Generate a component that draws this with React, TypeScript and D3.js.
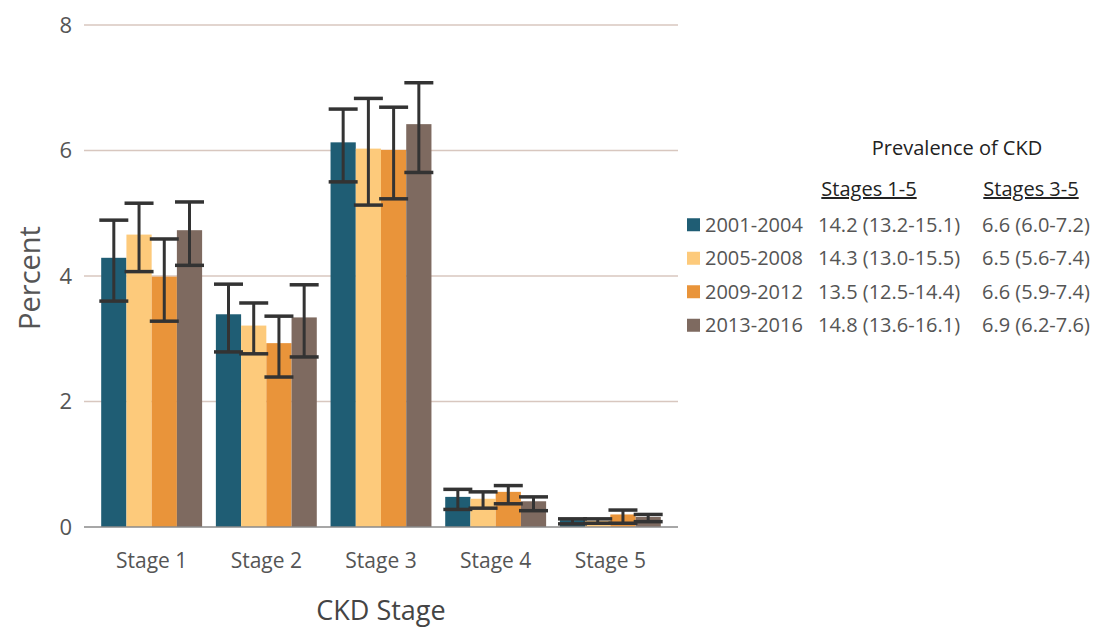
import React, { useEffect, useRef } from 'react';
import * as d3 from 'd3';

const stages = ['Stage 1', 'Stage 2', 'Stage 3', 'Stage 4', 'Stage 5'];
const periods = ['2001-2004', '2005-2008', '2009-2012', '2013-2016'];
const colors = ['#1f5d74', '#fdca7b', '#e9943a', '#7e6a60'];

// percent by stage, one array per period
const values = [
  [4.29, 3.39, 6.13, 0.48, 0.11],
  [4.66, 3.21, 6.03, 0.45, 0.10],
  [3.99, 2.93, 6.01, 0.56, 0.20],
  [4.73, 3.34, 6.42, 0.41, 0.16],
];
const lower = [
  [3.60, 2.79, 5.50, 0.28, 0.05],
  [4.07, 2.76, 5.13, 0.30, 0.06],
  [3.28, 2.39, 5.23, 0.37, 0.06],
  [4.17, 2.71, 5.65, 0.26, 0.085],
];
const upper = [
  [4.89, 3.87, 6.66, 0.60, 0.13],
  [5.16, 3.57, 6.83, 0.56, 0.13],
  [4.59, 3.36, 6.69, 0.66, 0.27],
  [5.18, 3.86, 7.08, 0.48, 0.20],
];
const yTicks = [0, 2, 4, 6, 8];
const stages15 = ['14.2 (13.2-15.1)', '14.3 (13.0-15.5)', '13.5 (12.5-14.4)', '14.8 (13.6-16.1)'];
const stages35 = ['6.6 (6.0-7.2)', '6.5 (5.6-7.4)', '6.6 (5.9-7.4)', '6.9 (6.2-7.6)'];

export default function App() {
  const ref = useRef<SVGSVGElement>(null);

  useEffect(() => {
    const svg = d3.select(ref.current);
    svg.selectAll('*').remove();
    const font = "'Open Sans', sans-serif";

    const left = 84, right = 678, top = 25, bottom = 527;

    const x0 = d3.scaleBand().domain(stages).range([left, right]).paddingInner(0.12).paddingOuter(0.15);
    const x1 = d3.scaleBand().domain(periods).range([0, x0.bandwidth()]);
    const y = d3.scaleLinear().domain([0, 8]).range([bottom, top]);

    // gridlines
    svg.append('g').selectAll('line').data(yTicks.filter(d => d > 0)).join('line')
      .attr('x1', left).attr('x2', right)
      .attr('y1', d => y(d)).attr('y2', d => y(d))
      .attr('stroke', '#d8c7bf').attr('stroke-width', 1.5);

    // y tick labels
    svg.append('g').selectAll('text').data(yTicks).join('text')
      .attr('x', 72).attr('y', d => y(d)).attr('dy', '0.35em')
      .attr('text-anchor', 'end')
      .attr('font-family', font).attr('font-size', 22).attr('fill', '#555')
      .text(d => d);

    // bars
    const groups = svg.append('g').selectAll('g').data(periods).join('g');
    groups.each(function (p, pi) {
      const g = d3.select(this);
      g.selectAll('rect').data(stages).join('rect')
        .attr('x', s => x0(s)! + x1(p)!)
        .attr('width', x1.bandwidth())
        .attr('y', (s, si) => y(values[pi][si]))
        .attr('height', (s, si) => bottom - y(values[pi][si]))
        .attr('fill', colors[pi]);
    });

    // baseline
    svg.append('line')
      .attr('x1', left).attr('x2', right).attr('y1', bottom).attr('y2', bottom)
      .attr('stroke', '#8a8a8a').attr('stroke-width', 1.5);

    // error bars
    const eg = svg.append('g').attr('stroke', '#333').attr('stroke-width', 3);
    periods.forEach((p, pi) => {
      stages.forEach((s, si) => {
        const cx = x0(s)! + x1(p)! + x1.bandwidth() / 2;
        const cap = 14.5;
        eg.append('line').attr('x1', cx).attr('x2', cx)
          .attr('y1', y(upper[pi][si])).attr('y2', y(lower[pi][si]));
        [upper[pi][si], lower[pi][si]].forEach(v => {
          eg.append('line').attr('x1', cx - cap).attr('x2', cx + cap)
            .attr('y1', y(v)).attr('y2', y(v)).attr('stroke-width', 3.5);
        });
      });
    });

    // x labels
    svg.append('g').selectAll('text').data(stages).join('text')
      .attr('x', s => x0(s)! + x0.bandwidth() / 2).attr('y', 568)
      .attr('text-anchor', 'middle')
      .attr('font-family', font).attr('font-size', 21).attr('fill', '#555')
      .text(s => s);

    svg.append('text')
      .attr('x', (left + right) / 2).attr('y', 620)
      .attr('text-anchor', 'middle')
      .attr('font-family', font).attr('font-size', 27).attr('fill', '#444')
      .text('CKD Stage');

    svg.append('text')
      .attr('transform', `translate(40, 278) rotate(-90)`)
      .attr('text-anchor', 'middle')
      .attr('font-family', font).attr('font-size', 29).attr('fill', '#555')
      .text('Percent');

    // legend
    const lg = svg.append('g').attr('font-family', font);
    lg.append('text').attr('x', 957).attr('y', 155).attr('text-anchor', 'middle')
      .attr('font-size', 20).attr('fill', '#222').text('Prevalence of CKD');
    lg.append('text').attr('x', 869).attr('y', 196).attr('text-anchor', 'middle')
      .attr('font-size', 20).attr('fill', '#222').attr('text-decoration', 'underline').text('Stages 1-5');
    lg.append('text').attr('x', 1031).attr('y', 196).attr('text-anchor', 'middle')
      .attr('font-size', 20).attr('fill', '#222').attr('text-decoration', 'underline').text('Stages 3-5');

    const ly = d3.scaleBand().domain(periods).range([208, 342]);
    periods.forEach((p, i) => {
      const cy = ly(p)! + ly.bandwidth() / 2;
      lg.append('rect').attr('x', 687).attr('y', cy - 6.5).attr('width', 13).attr('height', 13).attr('fill', colors[i]);
      lg.append('text').attr('x', 705).attr('y', cy).attr('dy', '0.35em')
        .attr('font-size', 20).attr('fill', '#555').text(p);
      lg.append('text').attr('x', 818).attr('y', cy).attr('dy', '0.35em')
        .attr('font-size', 20).attr('fill', '#555').text(stages15[i]);
      lg.append('text').attr('x', 982).attr('y', cy).attr('dy', '0.35em')
        .attr('font-size', 20).attr('fill', '#555').text(stages35[i]);
    });
  }, []);

  return (
    <svg ref={ref} width={1100} height={628}
      style={{ position: 'absolute', left: 0, top: 0, background: '#fff' }} />
  );
}
